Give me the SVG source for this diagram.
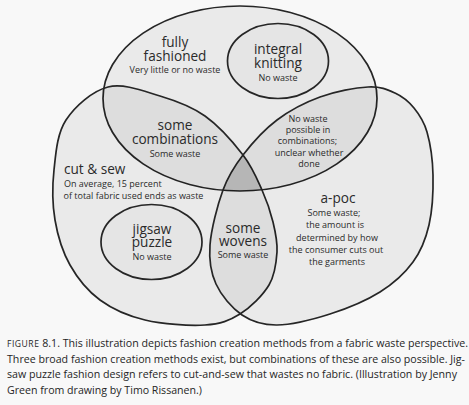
<svg xmlns="http://www.w3.org/2000/svg" width="469" height="405" viewBox="0 0 469 405">
<style>
.shape{fill:#000;fill-opacity:0.055;stroke:#262626;stroke-width:1.7}
.inner{fill:#000;fill-opacity:0.02;stroke:#262626;stroke-width:1.7}
text{font-family:"Open Sans","Liberation Sans",sans-serif;fill:#2a2a2a}
.c{text-anchor:middle}
.t{font-size:13.6px}
.s{font-size:9px}
.cap{font-size:10.2px;fill:#252525}
</style>
<defs>
<ellipse id="topE" cx="240" cy="98.5" rx="137" ry="92.5"/>
<path id="leftP" d="M108,87 C123.67,83 143.83,91.17 160,96 C176.17,100.83 191.17,106.17 205,116 C218.83,125.83 233.5,142.67 243,155 C252.5,167.33 257,178.83 262,190 C267,201.17 270.5,211.67 273,222 C275.5,232.33 277.67,241.5 277,252 C276.33,262.5 275.17,274.67 269,285 C262.83,295.33 250.67,307.33 240,314 C229.33,320.67 220.83,324 205,325 C189.17,326 162.5,324.17 145,320 C127.5,315.83 112.5,309.17 100,300 C87.5,290.83 77.5,278.33 70,265 C62.5,251.67 57.67,235.83 55,220 C52.33,204.17 52.17,186.67 54,170 C55.83,153.33 57,133.830 66,120 C75,106.17 92.33,91 108,87 Z"/>
<path id="rightP" d="M368,87 C380.5,86.33 387.33,89.5 395,93 C402.67,96.5 408.67,101.5 414,108 C419.33,114.5 423.83,120.83 427,132 C430.17,143.17 432.67,159.5 433,175 C433.33,190.5 432.33,210.5 429,225 C425.67,239.5 421.17,250.83 413,262 C404.83,273.17 393.83,283.33 380,292 C366.17,300.67 347.17,308.5 330,314 C312.83,319.5 291.67,324.83 277,325 C262.33,325.17 252.17,321.83 242,315 C231.83,308.17 221.33,295.67 216,284 C210.67,272.33 208.83,260.67 210,245 C211.17,229.33 217.5,205 223,190 C228.5,175 234,166.67 243,155 C252,143.33 264.17,129.67 277,120 C289.83,110.33 304.83,102.5 320,97 C335.17,91.5 355.5,87.67 368,87 Z"/>
<clipPath id="clipTop"><use href="#topE"/></clipPath>
<clipPath id="clipRight"><use href="#rightP"/></clipPath>
</defs>
<rect x="0" y="0" width="469" height="405" fill="#f8f8f8"/>

<g id="fully-fashioned">
<use href="#topE" class="shape"/>
<text class="c"><tspan class="t" x="175" y="46.5">fully</tspan><tspan class="t" x="175" y="61">fashioned</tspan><tspan class="s" x="175" y="72.5">Very little or no waste</tspan></text>
</g>

<g id="cut-and-sew">
<use href="#leftP" class="shape"/>
<text><tspan class="t" x="64" y="174">cut &amp; sew</tspan><tspan class="s" x="64" y="187">On average, 15 percent</tspan><tspan class="s" x="63.5" y="198.5">of total fabric used ends as waste</tspan></text>
</g>

<g id="a-poc">
<use href="#rightP" class="shape"/>
<text class="c"><tspan class="t" x="338" y="203">a-poc</tspan><tspan class="s" x="334" y="216">Some waste;</tspan><tspan class="s" x="335" y="228">the amount is</tspan><tspan class="s" x="337" y="240.5">determined by how</tspan><tspan class="s" x="336" y="252.5">the consumer cuts out</tspan><tspan class="s" x="337" y="264.5">the garments</tspan></text>
</g>

<g id="all-three">
<g clip-path="url(#clipTop)"><g clip-path="url(#clipRight)"><use href="#leftP" fill="#000" fill-opacity="0.12"/></g></g>
</g>

<g id="integral-knitting">
<ellipse class="inner" cx="278" cy="61" rx="50.5" ry="37.5"/>
<text class="c"><tspan class="t" x="278" y="54">integral</tspan><tspan class="t" x="278" y="67.5">knitting</tspan><tspan class="s" x="278" y="80.5">No waste</tspan></text>
</g>

<g id="jigsaw-puzzle">
<ellipse class="inner" cx="151.5" cy="242" rx="50.5" ry="37.5"/>
<text class="c"><tspan class="t" x="152" y="233.5">jigsaw</tspan><tspan class="t" x="152" y="247">puzzle</tspan><tspan class="s" x="152" y="260">No waste</tspan></text>
</g>

<g id="some-combinations">
<text class="c"><tspan class="t" x="175" y="130">some</tspan><tspan class="t" x="175" y="143.5">combinations</tspan><tspan class="s" x="175" y="156.5">Some waste</tspan></text>
</g>

<g id="no-waste-combinations">
<text class="c s"><tspan x="308" y="122">No waste</tspan><tspan x="308" y="132.5">possible in</tspan><tspan x="307.5" y="144">combinations;</tspan><tspan x="309" y="155.5">unclear whether</tspan><tspan x="309" y="166.5">done</tspan></text>
</g>

<g id="some-wovens">
<text class="c"><tspan class="t" x="243" y="232.5">some</tspan><tspan class="t" x="243" y="246">wovens</tspan><tspan class="s" x="243" y="258">Some waste</tspan></text>
</g>

<g id="connectors"/>

<g id="caption">
<text class="cap" x="7" y="347" textLength="461" lengthAdjust="spacingAndGlyphs"><tspan font-size="8.2" letter-spacing="0.5">FIGURE</tspan> 8.1. This illustration depicts fashion creation methods from a fabric waste perspective.</text>
<text class="cap" x="7" y="362.5" textLength="458" lengthAdjust="spacingAndGlyphs">Three broad fashion creation methods exist, but combinations of these are also possible. Jig-</text>
<text class="cap" x="7" y="378" textLength="450" lengthAdjust="spacingAndGlyphs">saw puzzle fashion design refers to cut-and-sew that wastes no fabric. (Illustration by Jenny</text>
<text class="cap" x="7" y="393.5" textLength="195" lengthAdjust="spacingAndGlyphs">Green from drawing by Timo Rissanen.)</text>
</g>
</svg>
